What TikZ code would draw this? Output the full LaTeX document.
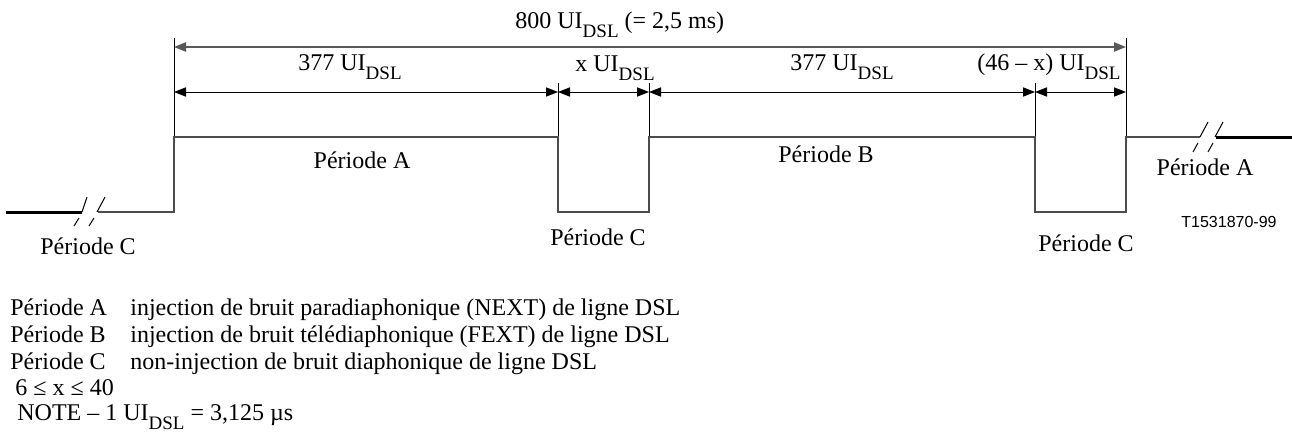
\documentclass[tikz,border=0pt]{standalone}
\usepackage{fontspec}
\setmainfont{Liberation Serif}
\newfontfamily\figsans{Liberation Sans}
\usetikzlibrary{arrows.meta}
\newcommand{\uidsl}{UI\raisebox{-4.8pt}{\fontsize{9.5}{10}\selectfont DSL}}

\begin{document}
\begin{tikzpicture}[x=0.5pt, y=-0.5pt, >={Triangle[length=6pt,width=4.6pt]},
      font=\fontsize{12}{13.5}\selectfont,
      wave/.style={draw=black!70, line width=1pt},
      tail/.style={draw=black, line width=1.5pt},
      dim/.style={<->, draw=black, line width=0.5pt},
      tick/.style={draw=black, line width=0.5pt},
      brk/.style={draw=black, line width=0.5pt},
      lbl/.style={inner sep=0pt, anchor=base},
      leg/.style={inner sep=0pt, anchor=base west}]
    \useasboundingbox (0,0) rectangle (1292,439);
    % dimension points
    \coordinate (a0) at (174,47);
    \coordinate (a1) at (1126,47);
    \coordinate (b0) at (174,92);
    \coordinate (b1) at (558,92);
    \coordinate (b2) at (649,92);
    \coordinate (b3) at (1035,92);
    \coordinate (b4) at (1126,92);
    % waveform corners
    \coordinate (w0) at (98,212);
    \coordinate (w1) at (174,212);
    \coordinate (w2) at (174,137);
    \coordinate (w3) at (558,137);
    \coordinate (w4) at (558,212);
    \coordinate (w5) at (649,212);
    \coordinate (w6) at (649,137);
    \coordinate (w7) at (1035,137);
    \coordinate (w8) at (1035,212);
    \coordinate (w9) at (1126,212);
    \coordinate (w10) at (1126,137);
    \coordinate (w11) at (1200,137);
    \coordinate (l0) at (6,212);
    \coordinate (l1) at (82,212);
    \coordinate (r0) at (1216,137);
    \coordinate (r1) at (1292,137);
    % ticks
    \draw[tick] (174,38) -- (w2);
    \draw[tick] (1126,38) -- (w10);
    \foreach \t/\w in {b1/w3, b2/w6, b3/w7}
      \draw[tick] ([yshift=4.5pt]\t) -- (\w);
    % arrows
    \draw[dim, draw=black!65, line width=0.9pt] (a0) -- (a1);
    \foreach \p/\q in {b0/b1, b1/b2, b2/b3, b3/b4}
      \draw[dim] (\p) -- (\q);
    % waveform
    \draw[wave] (w0) -- (w1) -- (w2) -- (w3) -- (w4) -- (w5) -- (w6) -- (w7)
      -- (w8) -- (w9) -- (w10) -- (w11);
    \draw[tail] (l0) -- (l1);
    \draw[tail] (r0) -- (r1);
    % breaks
    \draw[brk] (82,212) -- (87,197) (97,212) -- (105,197)
      (74,226) -- (79,218) (89,226) -- (94,218);
    \draw[brk] (1200,137) -- (1208,122) (1215,137) -- (1223,122)
      (1193,152) -- (1198,143) (1208,152) -- (1213,143);
    % labels
    \node[lbl, anchor=base west] (tot) at (515,28) {800 \uidsl{} (= 2,5 ms)};
    \node[lbl, anchor=base west] (dA) at (298,70) {377 \uidsl};
    \node[lbl, anchor=base west] (dx) at (575,71) {x \uidsl};
    \node[lbl, anchor=base west] (dB) at (790,70) {377 \uidsl};
    \node[lbl, anchor=base east] (dr) at (1121,70) {(46 -- x) \uidsl};
    \node[lbl] (pA) at (362,168) {Période A};
    \node[lbl] (pB) at (826,162) {Période B};
    \node[lbl] (pA2) at (1205,175) {Période A};
    \node[lbl] (pC0) at (88,254) {Période C};
    \node[lbl] (pC1) at (598,245) {Période C};
    \node[lbl] (pC2) at (1086,251) {Période C};
    \node[lbl, font=\figsans\fontsize{8}{9}\selectfont] (ref) at (1229,227) {T1531870-99};
    % legend
    \node[leg] (kA) at (10,315) {Période A};
    \node[leg] (kB) at (10,342) {Période B};
    \node[leg] (kC) at (10,369) {Période C};
    \node[leg] (tA) at (130,315) {injection de bruit paradiaphonique (NEXT) de ligne DSL};
    \node[leg] (tB) at (130,342) {injection de bruit télédiaphonique (FEXT) de ligne DSL};
    \node[leg] (tC) at (130,369) {non-injection de bruit diaphonique de ligne DSL};
    \node[leg] (rng) at (15,395) {6 ≤ x ≤ 40};
    \node[leg] (note) at (17,420) {NOTE -- 1 \uidsl{} = 3,125 µs};
  \end{tikzpicture}
\end{document}
